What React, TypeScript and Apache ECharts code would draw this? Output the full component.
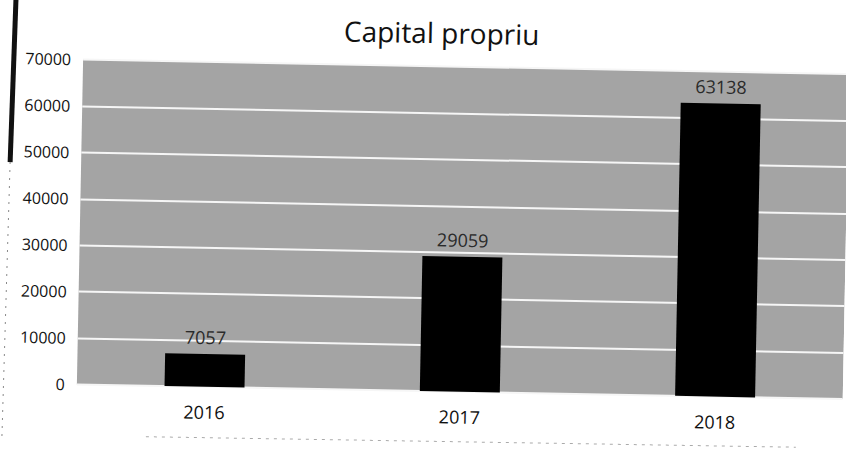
import React, { useEffect, useRef } from "react";
import * as echarts from "echarts";

const categories = ["2016", "2017", "2018"];
const values = [7057, 29059, 63138];
const title = "Capital propriu";

export default function App() {
  const ref = useRef<HTMLDivElement>(null);
  useEffect(() => {
    document.body.style.margin = "0";
    document.body.style.overflow = "hidden";
    const chart = echarts.init(ref.current!, null, { renderer: "svg" });
    chart.setOption({
      animation: false,
      backgroundColor: "#ffffff",
      title: {
        text: title,
        left: 433,
        top: 13,
        textAlign: "center",
        textStyle: { fontFamily: "Open Sans", fontSize: 28, fontWeight: "normal", color: "#111" },
      },
      grid: {
        left: 80,
        right: -4,
        top: 66,
        bottom: 59,
        show: true,
        backgroundColor: "#a4a4a4",
        borderWidth: 0,
      },
      xAxis: {
        type: "category",
        data: categories,
        axisLine: { show: false },
        axisTick: { show: false },
        axisLabel: { fontFamily: "Open Sans", fontSize: 18, color: "#111", margin: 16 },
      },
      yAxis: {
        type: "value",
        min: 0,
        max: 70000,
        interval: 10000,
        axisLine: { show: false },
        axisTick: { show: false },
        axisLabel: {
          fontFamily: "Open Sans",
          fontSize: 16,
          color: "#111",
          margin: 12,
          padding: [0, 0, 6, 0],
          formatter: (v: number) => String(v),
        },
        splitLine: { lineStyle: { color: "#f6f6f6", width: 2 } },
      },
      series: [
        {
          type: "bar",
          data: values,
          barWidth: 80,
          itemStyle: { color: "#000000" },
          label: {
            show: true,
            position: "top",
            distance: 8,
            fontFamily: "Open Sans",
            fontSize: 18,
            color: "#2a2a2a",
          },
        },
      ],
      graphic: [
        { type: "line", shape: { x1: 12, y1: -10, x2: 9, y2: 170 }, style: { stroke: "#111", lineWidth: 5 } },
        {
          type: "line",
          shape: { x1: 9, y1: 170, x2: 6, y2: 450 },
          style: { stroke: "#888", lineWidth: 1, lineDash: [2, 6] },
        },
        {
          type: "line",
          shape: { x1: 150, y1: 442, x2: 800, y2: 440 },
          style: { stroke: "#aaa", lineWidth: 1, lineDash: [3, 5] },
        },
      ],
    });
    return () => chart.dispose();
  }, []);
  return (
    <div
      ref={ref}
      style={{ width: 846, height: 450, transform: "rotate(1.1deg)", transformOrigin: "423px 225px" }}
    />
  );
}
